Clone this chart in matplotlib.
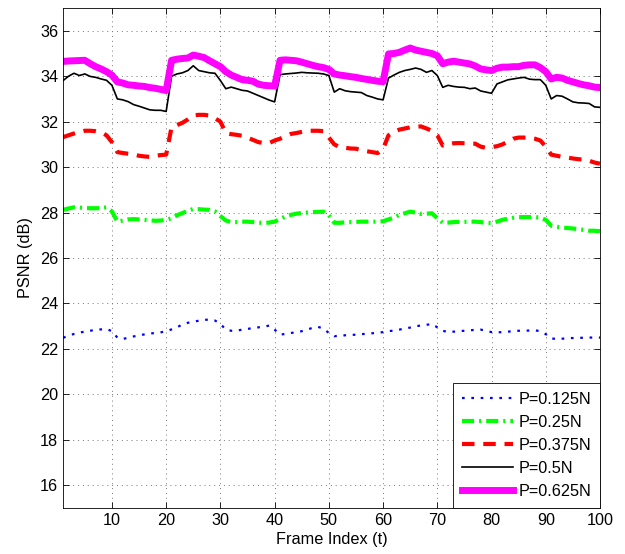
import numpy as np
import matplotlib
matplotlib.use("Agg")
import matplotlib.pyplot as plt

# ----------------------------------------------------
# DATA (PSNR per frame)
# ----------------------------------------------------
frames = np.arange(1, 101)

psnr_0125 = [
    22.49, 22.58, 22.66, 22.72, 22.76, 22.80, 22.84, 22.86, 22.88, 22.78,
    22.50, 22.44, 22.49, 22.55, 22.60, 22.64, 22.68, 22.70, 22.73, 22.78,
    22.86, 22.95, 23.08, 23.15, 23.20, 23.24, 23.28, 23.29, 23.25, 23.10,
    22.85, 22.80, 22.80, 22.85, 22.88, 22.92, 22.95, 22.97, 23.03, 22.85,
    22.63, 22.66, 22.70, 22.74, 22.78, 22.85, 22.93, 22.97, 22.90, 22.70,
    22.56, 22.58, 22.60, 22.61, 22.63, 22.65, 22.67, 22.69, 22.71, 22.74,
    22.78, 22.81, 22.85, 22.90, 22.94, 23.00, 23.03, 23.06, 23.10, 22.95,
    22.80, 22.74, 22.76, 22.78, 22.80, 22.82, 22.84, 22.85, 22.80, 22.74,
    22.73, 22.74, 22.76, 22.78, 22.80, 22.80, 22.81, 22.82, 22.78, 22.65,
    22.46, 22.44, 22.45, 22.47, 22.48, 22.49, 22.49, 22.50, 22.50, 22.50]

psnr_025 = [
    28.12, 28.18, 28.23, 28.22, 28.20, 28.19, 28.19, 28.20, 28.23, 28.05,
    27.60, 27.65, 27.70, 27.71, 27.70, 27.68, 27.66, 27.64, 27.65, 27.68,
    27.75, 27.88, 27.98, 28.08, 28.16, 28.15, 28.13, 28.12, 28.05, 27.85,
    27.65, 27.58, 27.58, 27.60, 27.60, 27.58, 27.56, 27.54, 27.56, 27.60,
    27.72, 27.83, 27.90, 27.95, 27.98, 28.00, 28.02, 28.03, 28.04, 27.88,
    27.55, 27.55, 27.57, 27.58, 27.59, 27.60, 27.60, 27.60, 27.60, 27.62,
    27.70, 27.78, 27.90, 27.97, 28.04, 28.00, 27.94, 27.95, 27.97, 27.75,
    27.55, 27.56, 27.58, 27.59, 27.59, 27.60, 27.60, 27.58, 27.55, 27.54,
    27.60, 27.68, 27.73, 27.77, 27.80, 27.80, 27.80, 27.80, 27.78, 27.68,
    27.42, 27.38, 27.34, 27.32, 27.30, 27.27, 27.24, 27.20, 27.20, 27.18]

psnr_0375 = [
    31.32, 31.40, 31.48, 31.55, 31.60, 31.60, 31.58, 31.53, 31.40, 31.10,
    30.66, 30.62, 30.59, 30.55, 30.50, 30.47, 30.45, 30.50, 30.53, 30.55,
    31.76, 31.85, 31.95, 32.10, 32.28, 32.30, 32.30, 32.27, 32.15, 32.00,
    31.50, 31.45, 31.42, 31.38, 31.30, 31.20, 31.10, 31.06, 31.06, 31.17,
    31.25, 31.35, 31.46, 31.50, 31.55, 31.60, 31.60, 31.60, 31.58, 31.30,
    31.00, 30.88, 30.85, 30.82, 30.81, 30.75, 30.70, 30.66, 30.62, 30.80,
    31.40, 31.55, 31.65, 31.70, 31.75, 31.78, 31.79, 31.70, 31.60, 31.40,
    30.95, 31.00, 31.05, 31.06, 31.05, 31.04, 31.03, 30.90, 30.85, 30.88,
    30.92, 31.00, 31.12, 31.25, 31.30, 31.30, 31.29, 31.25, 31.17, 30.90,
    30.55, 30.50, 30.45, 30.42, 30.38, 30.35, 30.33, 30.28, 30.20, 30.15]

psnr_05 = [
    33.81, 34.00, 34.13, 34.03, 34.10, 33.99, 33.95, 33.88, 33.82, 33.60,
    33.00, 32.96, 32.88, 32.75, 32.68, 32.60, 32.52, 32.50, 32.50, 32.45,
    34.00, 34.10, 34.15, 34.25, 34.46, 34.25, 34.20, 34.15, 34.13, 33.81,
    33.45, 33.52, 33.45, 33.38, 33.35, 33.25, 33.15, 33.05, 32.95, 32.87,
    34.07, 34.10, 34.12, 34.14, 34.17, 34.15, 34.14, 34.13, 34.10, 34.03,
    33.30, 33.45, 33.36, 33.32, 33.30, 33.28, 33.15, 33.08, 33.00, 32.96,
    33.92, 34.05, 34.17, 34.25, 34.30, 34.36, 34.30, 34.17, 34.25, 34.03,
    33.51, 33.60, 33.55, 33.52, 33.51, 33.45, 33.48, 33.35, 33.30, 33.25,
    33.66, 33.75, 33.84, 33.88, 33.92, 33.95, 33.87, 33.85, 33.85, 33.60,
    33.00, 33.15, 33.12, 33.00, 32.87, 32.83, 32.82, 32.80, 32.65, 32.63]

psnr_0625 = [
    34.65, 34.67, 34.68, 34.69, 34.70, 34.55, 34.42, 34.32, 34.20, 34.05,
    33.75, 33.70, 33.62, 33.60, 33.57, 33.55, 33.50, 33.47, 33.42, 33.37,
    34.70, 34.75, 34.78, 34.80, 34.93, 34.88, 34.82, 34.68, 34.55, 34.42,
    34.20, 34.05, 33.95, 33.85, 33.82, 33.78, 33.65, 33.60, 33.58, 33.57,
    34.70, 34.72, 34.70, 34.68, 34.62, 34.55, 34.48, 34.42, 34.38, 34.30,
    34.10, 34.05, 34.02, 33.98, 33.95, 33.90, 33.86, 33.82, 33.78, 33.76,
    34.98, 35.00, 35.05, 35.15, 35.24, 35.15, 35.10, 35.05, 35.00, 34.90,
    34.55, 34.62, 34.66, 34.62, 34.58, 34.54, 34.45, 34.32, 34.28, 34.25,
    34.35, 34.40, 34.40, 34.42, 34.42, 34.48, 34.50, 34.50, 34.38, 34.20,
    33.88, 33.95, 33.92, 33.82, 33.75, 33.68, 33.62, 33.58, 33.52, 33.50]

labels = ["P=0.125N", "P=0.25N", "P=0.375N", "P=0.5N", "P=0.625N"]

# ----------------------------------------------------
# PLOT
# ----------------------------------------------------
plt.rcParams["font.family"] = ["Liberation Sans", "DejaVu Sans"]
plt.rcParams["font.size"] = 11.7

fig = plt.figure(figsize=(6.25, 5.54), dpi=100)
ax = fig.add_axes([0.101, 0.083, 0.859, 0.9025])

ax.plot(frames, psnr_0125, color="#0000ff", linestyle=(0, (1.2, 3.0)), linewidth=1.6, label=labels[0])
ax.plot(frames, psnr_025, color="#00ff00", linestyle=(0, (2.9, 1.2, 0.5, 1.2)), linewidth=3, label=labels[1])
ax.plot(frames, psnr_0375, color="#ff0000", linestyle=(0, (3.0, 2.1)), linewidth=3, label=labels[2])
ax.plot(frames, psnr_05, color="black", linestyle="-", linewidth=1.2, label=labels[3])
ax.plot(frames, psnr_0625, color="#ff00ff", linestyle="-", linewidth=5, label=labels[4])

ax.set_xlim(1, 100)
ax.set_ylim(15, 37)
ax.set_xticks(np.arange(10, 101, 10))
ax.set_yticks(np.arange(16, 37, 2))
ax.tick_params(direction="in", top=True, right=True, length=4, width=0.6)
ax.grid(True, linestyle=(0, (1, 4)), color="#777777", linewidth=0.7)
for sp in ax.spines.values():
    sp.set_linewidth(0.6)

ax.set_xlabel("Frame Index (t)", labelpad=3)
ax.set_ylabel("PSNR (dB)", labelpad=5)

leg = ax.legend(loc="lower right", borderaxespad=0, fancybox=False,
                handlelength=3.1, labelspacing=0.5, borderpad=0.55,
                handletextpad=0.35, framealpha=1)
leg.get_frame().set_edgecolor("black")
leg.get_frame().set_linewidth(0.6)

plt.savefig("out.png", dpi=100)
plt.close()
